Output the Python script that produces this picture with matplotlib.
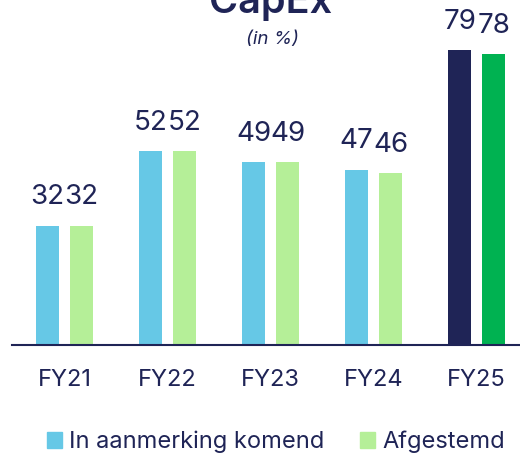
import matplotlib
matplotlib.use("Agg")
import matplotlib.pyplot as plt
from matplotlib.patches import Patch
import numpy as np

categories = ["FY21", "FY22", "FY23", "FY24", "FY25"]
eligible = [32, 52, 49, 47, 79]
aligned = [32, 52, 49, 46, 78]
series_names = ["In aanmerking komend", "Afgestemd"]
title = "CapEx"
subtitle = "(in %)"

NAVY = "#1F2456"
LBLUE = "#66C8E6"
LGREEN = "#B5EF98"
DGREEN = "#00B251"

plt.rcParams['font.family'] = ['Inter', 'DejaVu Sans']

fig = plt.figure(figsize=(5.2, 4.55), dpi=100)
ax = fig.add_axes([12/520, 110/455, 508/520, 345/455])

x = np.arange(len(categories))
w = 0.223
off = 0.165
c1 = [LBLUE]*(len(categories)-1) + [NAVY]
c2 = [LGREEN]*(len(categories)-1) + [DGREEN]
b1 = ax.bar(x - off, eligible, w, color=c1)
b2 = ax.bar(x + off, aligned, w, color=c2)
for b in (b1, b2):
    ax.bar_label(b, padding=11, fontsize=20, color=NAVY)

ax.set_xlim(-0.51, 4.42)
ax.set_ylim(0, 92.5)
ax.set_yticks([])
for s in ["top", "right", "left"]:
    ax.spines[s].set_visible(False)
ax.spines["bottom"].set_color(NAVY)
ax.spines["bottom"].set_linewidth(1.5)
ax.set_xticks(x)
ax.set_xticklabels(categories, fontsize=17, color=NAVY)
ax.tick_params(axis='x', length=0, pad=17)

fig.text(271/520, 1 - 13/455, title, ha='center', va='baseline',
         fontsize=28.5, fontweight='semibold', color=NAVY)
fig.text(272/520, 1 - 39/455, subtitle, ha='center', va='center',
         fontsize=13.5, style='italic', color=NAVY)

handles = [Patch(color=LBLUE), Patch(color=LGREEN)]
fig.legend(handles, series_names, loc='center', bbox_to_anchor=(276/520, 13/455),
           ncol=2, frameon=False, fontsize=17, labelcolor=NAVY,
           handlelength=0.65, handleheight=0.65, handletextpad=0.3,
           columnspacing=1.5, borderpad=0, borderaxespad=0)

fig.savefig("out.png", dpi=100)
